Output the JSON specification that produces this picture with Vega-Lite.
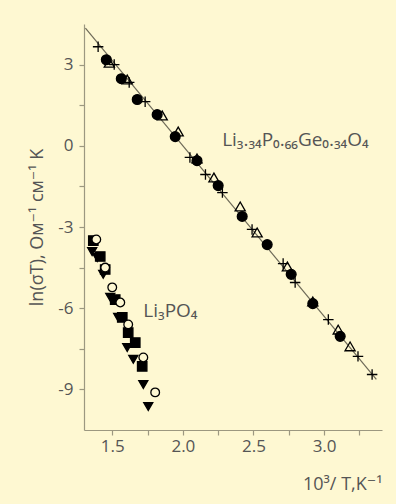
{
  "$schema": "https://vega.github.io/schema/vega-lite/v6.json",
  "width": 298,
  "height": 406,
  "autosize": "none",
  "padding": {"left": 84, "top": 24, "right": 14, "bottom": 74},
  "background": "#fef8d2",
  "config": {
    "view": {"stroke": null},
    "font": "Open Sans, DejaVu Sans",
    "axis": {"grid": false, "domainColor": "#9c9880", "tickColor": "#9c9880", "labelColor": "#555555", "titleColor": "#555555", "labelFont": "Open Sans", "titleFont": "Open Sans, DejaVu Sans", "labelFontSize": 17, "titleFontSize": 18, "titleFontWeight": "normal", "tickSize": 5, "domainWidth": 1.2, "tickWidth": 1.2}
  },
  "datasets": {
    "pts": [
      {"s": "ge_cross", "x": 1.40, "y": 3.66},
      {"s": "ge_cross", "x": 1.514, "y": 3.0},
      {"s": "ge_cross", "x": 1.62, "y": 2.34},
      {"s": "ge_cross", "x": 1.733, "y": 1.63},
      {"s": "ge_cross", "x": 2.05, "y": -0.43},
      {"s": "ge_cross", "x": 2.16, "y": -1.06},
      {"s": "ge_cross", "x": 2.28, "y": -1.73},
      {"s": "ge_cross", "x": 2.49, "y": -3.09},
      {"s": "ge_cross", "x": 2.71, "y": -4.35},
      {"s": "ge_cross", "x": 2.795, "y": -5.05},
      {"s": "ge_cross", "x": 3.03, "y": -6.42},
      {"s": "ge_cross", "x": 3.24, "y": -7.78},
      {"s": "ge_cross", "x": 3.34, "y": -8.45},
      {"s": "ge_tri", "x": 1.479, "y": 3.07},
      {"s": "ge_tri", "x": 1.606, "y": 2.45},
      {"s": "ge_tri", "x": 1.854, "y": 1.12},
      {"s": "ge_tri", "x": 1.967, "y": 0.53},
      {"s": "ge_tri", "x": 2.10, "y": -0.47},
      {"s": "ge_tri", "x": 2.22, "y": -1.17},
      {"s": "ge_tri", "x": 2.406, "y": -2.24},
      {"s": "ge_tri", "x": 2.526, "y": -3.20},
      {"s": "ge_tri", "x": 2.74, "y": -4.46},
      {"s": "ge_tri", "x": 2.92, "y": -5.75},
      {"s": "ge_tri", "x": 3.10, "y": -6.79},
      {"s": "ge_tri", "x": 3.184, "y": -7.41},
      {"s": "ge_dot", "x": 1.458, "y": 3.18},
      {"s": "ge_dot", "x": 1.564, "y": 2.48},
      {"s": "ge_dot", "x": 1.677, "y": 1.71},
      {"s": "ge_dot", "x": 1.818, "y": 1.15},
      {"s": "ge_dot", "x": 1.946, "y": 0.34},
      {"s": "ge_dot", "x": 2.10, "y": -0.55},
      {"s": "ge_dot", "x": 2.25, "y": -1.47},
      {"s": "ge_dot", "x": 2.42, "y": -2.61},
      {"s": "ge_dot", "x": 2.597, "y": -3.65},
      {"s": "ge_dot", "x": 2.767, "y": -4.75},
      {"s": "ge_dot", "x": 2.92, "y": -5.83},
      {"s": "ge_dot", "x": 3.114, "y": -7.04},
      {"s": "p_sq", "x": 1.366, "y": -3.50},
      {"s": "p_sq", "x": 1.415, "y": -4.09},
      {"s": "p_sq", "x": 1.45, "y": -4.57},
      {"s": "p_sq", "x": 1.521, "y": -5.68},
      {"s": "p_sq", "x": 1.571, "y": -6.34},
      {"s": "p_sq", "x": 1.613, "y": -6.90},
      {"s": "p_sq", "x": 1.663, "y": -7.27},
      {"s": "p_sq", "x": 1.712, "y": -8.15},
      {"s": "p_tri", "x": 1.358, "y": -3.91},
      {"s": "p_tri", "x": 1.394, "y": -4.13},
      {"s": "p_tri", "x": 1.436, "y": -4.75},
      {"s": "p_tri", "x": 1.486, "y": -5.60},
      {"s": "p_tri", "x": 1.542, "y": -6.34},
      {"s": "p_tri", "x": 1.606, "y": -7.45},
      {"s": "p_tri", "x": 1.649, "y": -7.89},
      {"s": "p_tri", "x": 1.72, "y": -8.82},
      {"s": "p_tri", "x": 1.755, "y": -9.63},
      {"s": "p_circ", "x": 1.387, "y": -3.46},
      {"s": "p_circ", "x": 1.45, "y": -4.50},
      {"s": "p_circ", "x": 1.5, "y": -5.23},
      {"s": "p_circ", "x": 1.557, "y": -5.79},
      {"s": "p_circ", "x": 1.613, "y": -6.60},
      {"s": "p_circ", "x": 1.72, "y": -7.82},
      {"s": "p_circ", "x": 1.804, "y": -9.11}
    ],
    "fit": [
      {"x": 1.31, "y": 4.35},
      {"x": 3.37, "y": -8.63}
    ],
    "labels": [
      {"x": 2.278, "y": 0.23, "t": "Li₃.₃₄P₀.₆₆Ge₀.₃₄O₄"},
      {"x": 1.72, "y": -6.1, "t": "Li₃PO₄"}
    ]
  },
  "layer": [
    {
      "data": {"name": "fit"},
      "mark": {"type": "line", "color": "#6e6a58", "strokeWidth": 1.2},
      "encoding": {
        "x": {"field": "x", "type": "quantitative", "scale": {"domain": [1.3, 3.41], "nice": false, "zero": false},
          "axis": {"values": [1.5, 1.75, 2.0, 2.25, 2.5, 2.75, 3.0, 3.25], "labelExpr": "datum.value * 2 == round(datum.value * 2) ? format(datum.value, '.1f') : ''", "title": "10³/ T,K⁻¹", "titleAnchor": "end", "titleAlign": "right", "titlePadding": 21, "labelPadding": 3}},
        "y": {"field": "y", "type": "quantitative", "scale": {"domain": [-10.5, 4.5], "nice": false, "zero": false},
          "axis": {"values": [-9, -7.5, -6, -4.5, -3, -1.5, 0, 1.5, 3], "labelExpr": "datum.value % 3 == 0 ? '' + datum.value : ''", "title": "ln(σT), Ом⁻¹ см⁻¹ K", "titlePadding": 11, "labelPadding": 6}}
      }
    },
    {
      "data": {"name": "pts"},
      "mark": {"type": "point", "stroke": "black", "strokeWidth": 1.3, "opacity": 1},
      "encoding": {
        "x": {"field": "x", "type": "quantitative"},
        "y": {"field": "y", "type": "quantitative"},
        "shape": {"field": "s", "type": "nominal", "legend": null, "scale": {"domain": ["ge_cross", "ge_tri", "ge_dot", "p_sq", "p_tri", "p_circ"], "range": ["M-1,0L1,0M0,-1L0,1", "triangle-up", "circle", "square", "triangle-down", "circle"]}},
        "fill": {"field": "s", "type": "nominal", "legend": null, "scale": {"domain": ["ge_cross", "ge_tri", "ge_dot", "p_sq", "p_tri", "p_circ"], "range": ["transparent", "transparent", "black", "black", "black", "#fef8d2"]}},
        "size": {"field": "s", "type": "nominal", "legend": null, "scale": {"domain": ["ge_cross", "ge_tri", "ge_dot", "p_sq", "p_tri", "p_circ"], "range": [110, 75, 80, 70, 75, 50]}}
      }
    },
    {
      "data": {"name": "labels"},
      "mark": {"type": "text", "align": "left", "baseline": "middle", "fontSize": 19, "color": "#555555", "font": "Open Sans, DejaVu Sans"},
      "encoding": {
        "x": {"field": "x", "type": "quantitative"},
        "y": {"field": "y", "type": "quantitative"},
        "text": {"field": "t"}
      }
    }
  ]
}
